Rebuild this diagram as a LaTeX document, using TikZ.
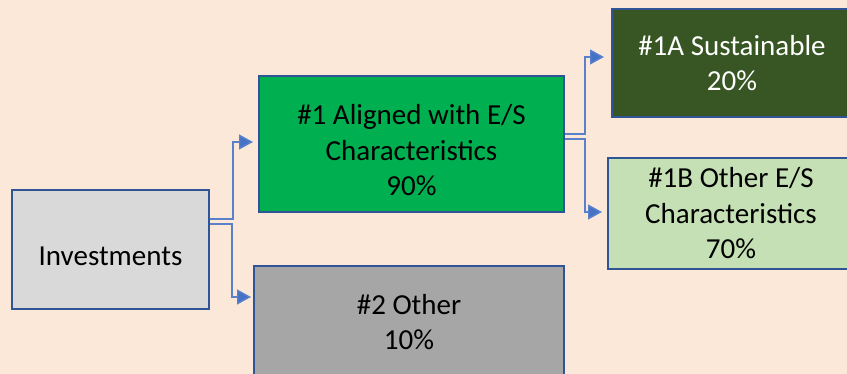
\documentclass[tikz,border=0pt]{standalone}
\usepackage{fontspec}
\setmainfont{Carlito}
\usepackage{tikz}
\usetikzlibrary{arrows.meta,positioning}
\definecolor{bgpeach}{HTML}{FBE8D8}
\definecolor{bxline}{HTML}{2F5597}
\definecolor{cnline}{HTML}{5A80CC}
\definecolor{tipblue}{HTML}{4472C4}
\definecolor{invgray}{HTML}{D9D9D9}
\definecolor{algreen}{HTML}{00B050}
\definecolor{sugreen}{HTML}{375623}
\definecolor{oegreen}{HTML}{C5E0B4}
\definecolor{otgray}{HTML}{A6A6A6}
\newcommand{\dn}{\rule{0pt}{33pt}}

\begin{document}
\begin{tikzpicture}[
    x=1pt, y=-1pt,
    bx/.style={draw=bxline, line width=2pt, rectangle, inner sep=0pt, align=center,
      font=\fontsize{29}{35.5}\selectfont},
    cn/.style={draw=cnline, line width=1.4pt, -{Triangle[length=14pt,width=15pt,fill=tipblue]}}
  ]
    \useasboundingbox (0,0) rectangle (847,374);
    \fill[bgpeach] (0,0) rectangle (847,374);
    % ---- boxes ----
    \node[bx, fill=invgray, minimum width=197pt, minimum height=119pt] (inv) at (110.5,249.5) {\dn Investments};
    \node[bx, fill=algreen, minimum width=305pt, minimum height=136pt] (al) at (411.5,144) {\dn\#1 Aligned with E/S\\Characteristics\\90\%};
    \node[bx, fill=otgray, minimum width=310pt, minimum height=112pt] (ot) at (409,322) {\#2 Other\\10\%};
    \node[bx, fill=sugreen, text=white, minimum width=240pt, minimum height=108pt] (su) at (732,63) {\#1A Sustainable\\20\%};
    \node[bx, fill=oegreen, minimum width=246pt, minimum height=111pt] (oe) at (731,213.5) {\#1B Other E/S\\Characteristics\\70\%};
    % ---- connectors ----
    \draw[cn] ([yshift=30.5pt]inv.east) -- ++(23,0) |- ([xshift=-5pt,yshift=2pt]al.west);
    \draw[cn] ([yshift=25.5pt]inv.east) -- ++(22,0) |- ([xshift=-2pt,yshift=25pt]ot.west);
    \draw[cn] ([yshift=10pt]al.east) -- ++(20,0) |- ([xshift=-7pt,yshift=6pt]su.west);
    \draw[cn] ([yshift=5pt]al.east) -- ++(20,0) |- ([xshift=-5pt,yshift=1.5pt]oe.west);
  \end{tikzpicture}
\end{document}
